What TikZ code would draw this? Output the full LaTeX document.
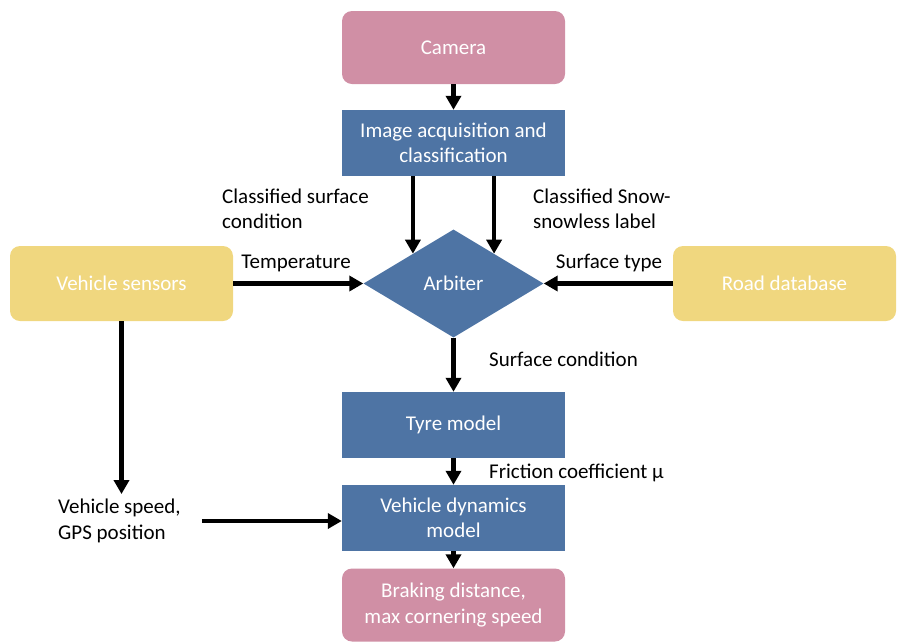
\documentclass[tikz,border=0pt]{standalone}
\usepackage{fontspec}
\setmainfont{Carlito}
\usetikzlibrary{arrows.meta,shapes.geometric,calc}

\definecolor{boxpink}{RGB}{208,143,165}
\definecolor{boxblue}{RGB}{78,116,164}
\definecolor{boxyellow}{RGB}{240,215,127}

\tikzset{
  block/.style={fill=boxblue, text=white, minimum width=223pt, minimum height=66pt,
    align=center, inner sep=0pt},
  endbox/.style={block, fill=boxpink, rounded corners=10pt, minimum height=73pt},
  sensbox/.style={block, fill=boxyellow, rounded corners=10pt, minimum height=75pt},
  arr/.style={line width=4.5pt, -{Triangle[width=15pt,length=14pt]}},
  lbl/.style={align=left, inner sep=0pt},
}

\begin{document}
\begin{tikzpicture}[x=1pt, y=-1pt, font=\fontsize{21pt}{25.5pt}\selectfont]
\useasboundingbox (0,0) rectangle (899,641);

% boxes
\node[endbox] (cam) at (453.5,47.5) {Camera};
\node[block] (img) at (453.5,143) {Image acquisition and\\classification};
\node[diamond, fill=boxblue, text=white, minimum width=180pt, minimum height=108pt,
  inner sep=0pt] (arb) at (453.5,283.5) {Arbiter};
\node[sensbox] (sens) at (121.5,283.5) {Vehicle sensors};
\node[sensbox] (road) at (784.5,283.5) {Road database};
\node[block] (tyre) at (453.5,425) {Tyre model};
\node[block] (vdm) at (453.5,518) {Vehicle dynamics\\model};
\node[endbox] (brk) at (453.5,605) {Braking distance,\\max cornering speed};
\node[lbl, anchor=west, inner sep=5pt] (spd) at (53,521) {Vehicle speed,\\GPS position};

% labels
\node[lbl, anchor=west] (lclass) at (222,209) {Classified surface\\condition};
\node[lbl, anchor=west] (lsnow) at (533,209) {Classified Snow-\\snowless label};
\node[lbl] (ltemp) at (296,263) {Temperature};
\node[lbl] (ltype) at (609,263) {Surface type};
\node[lbl, anchor=west] (lcond) at (489,359) {Surface condition};
\node[lbl, anchor=west] (lfric) at (489,473) {Friction coefficient μ};

% arrows
\coordinate (a1) at ($(arb.west)!0.55!(arb.north)$);
\coordinate (a2) at ($(arb.east)!0.55!(arb.north)$);
\draw[arr] (cam) -- (img);
\draw[arr] (img.south -| a1) -- (a1);
\draw[arr] (img.south -| a2) -- (a2);
\draw[arr] (sens) -- (arb);
\draw[arr] (road) -- (arb);
\draw[arr] (arb) -- (tyre);
\draw[arr] (tyre) -- (vdm);
\draw[arr] (vdm) -- (brk);
\draw[arr] (sens.south) -- (sens.south |- spd.north);
\draw[arr, shorten <=16pt] (spd.east) -- (spd.east -| vdm.west);
\end{tikzpicture}
\end{document}
